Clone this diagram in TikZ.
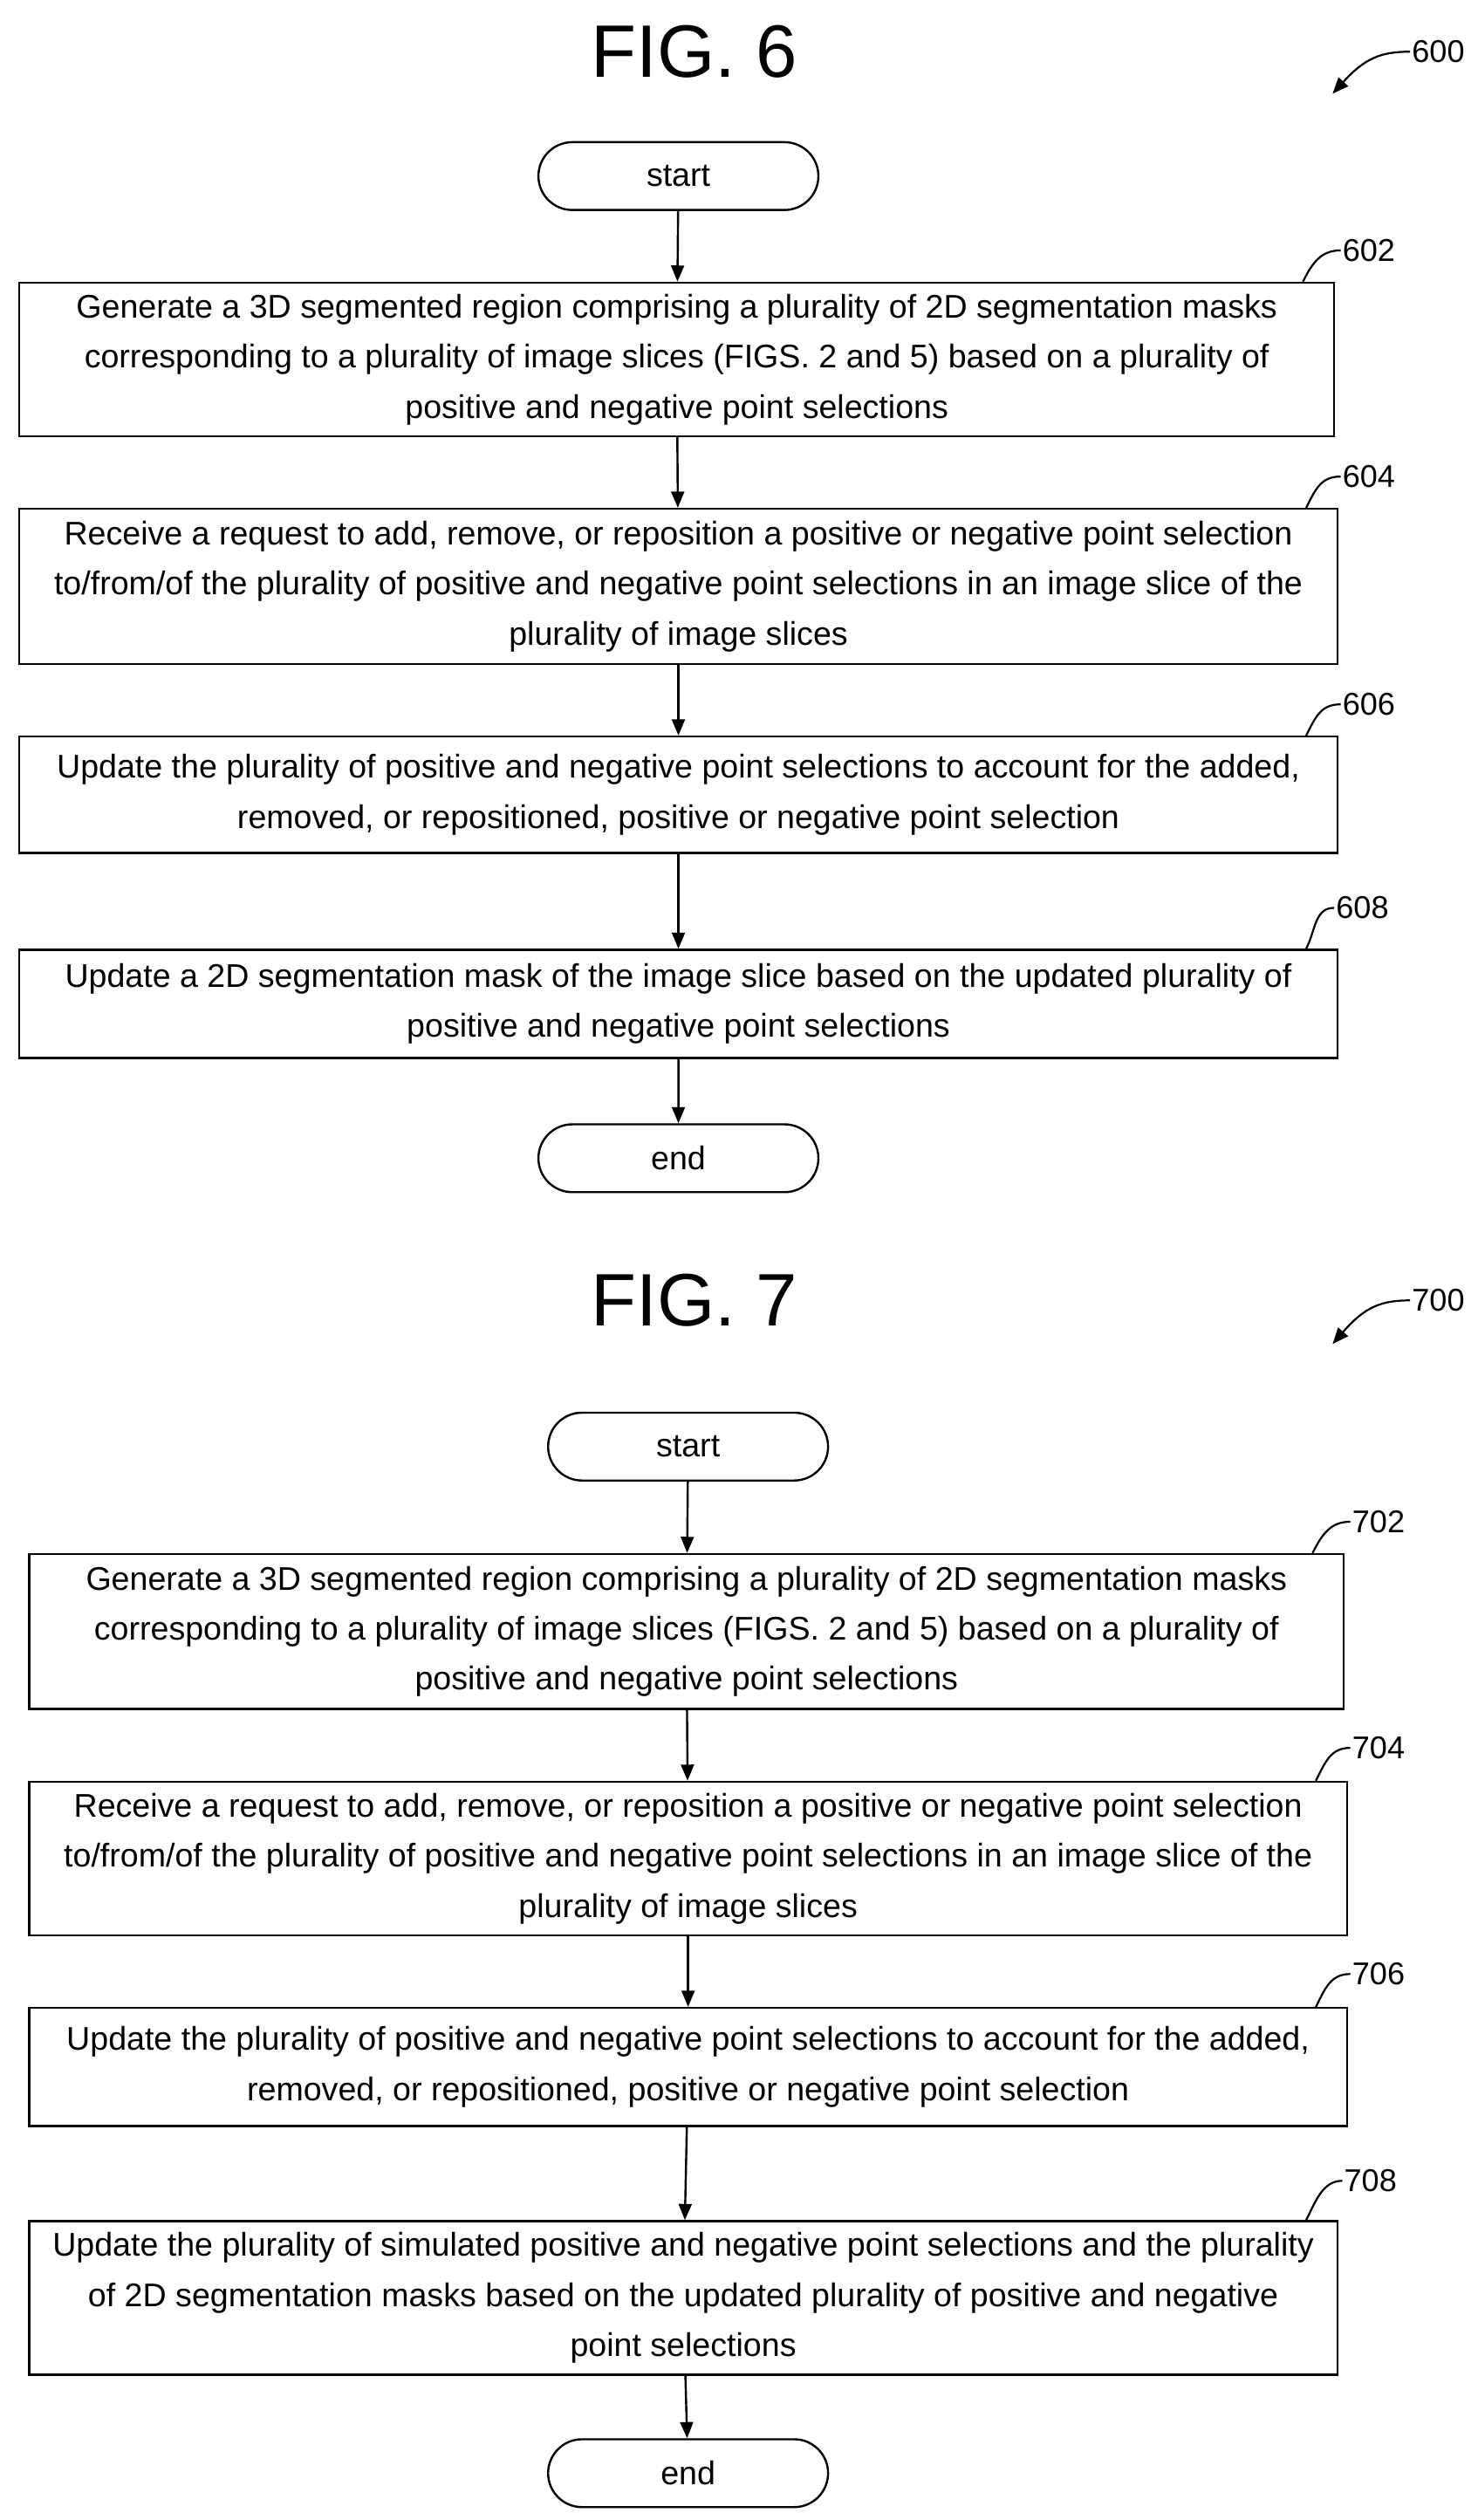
\documentclass[tikz,border=0pt]{standalone}
\usepackage{fontspec}
\setmainfont{Liberation Sans}
\usetikzlibrary{arrows.meta, positioning, shapes.misc}

\begin{document}
\begin{tikzpicture}[x=1pt,y=-1pt,>={Triangle[length=10pt,width=8pt]},
  procbox/.style={draw, line width=1.3pt, align=center, inner sep=0pt,
    font=\fontsize{20.3}{31}\selectfont},
  term/.style={draw, line width=1.3pt, rounded rectangle, minimum width=180pt,
    minimum height=42pt, font=\fontsize{20.3}{22}\selectfont},
  fig/.style={font=\fontsize{46}{50}\selectfont},
  ref/.style={font=\fontsize{19.5}{22}\selectfont, anchor=west, inner sep=1pt},
  flow/.style={->, line width=1.3pt},
  hook/.style={line width=1.2pt}]

  \useasboundingbox (0,0) rectangle (915,1560);

  % FIG. 6
  \node[fig] (f6) at (430,32) {FIG. 6};
  \node[ref] (r600) at (873,32) {600};
  \coordinate (a600) at (825,58);
  \draw[hook,->] (r600.west) .. controls (855,32) and (845,36) .. (a600);

  \node[term] (s6) at (420,109) {start};
  \node[procbox, minimum width=814pt, minimum height=95pt] (b602) at (419,222.5)
    {Generate a 3D segmented region comprising a plurality of 2D segmentation masks\\
     corresponding to a plurality of image slices (FIGS. 2 and 5) based on a plurality of\\
     positive and negative point selections};
  \node[procbox, minimum width=816pt, minimum height=96pt] (b604) at (420,363)
    {Receive a request to add, remove, or reposition a positive or negative point selection\\
     to/from/of the plurality of positive and negative point selections in an image slice of the\\
     plurality of image slices};
  \node[procbox, minimum width=816pt, minimum height=72pt] (b606) at (420,492)
    {Update the plurality of positive and negative point selections to account for the added,\\
     removed, or repositioned, positive or negative point selection};
  \node[procbox, minimum width=816pt, minimum height=67pt] (b608) at (420,621.5)
    {Update a 2D segmentation mask of the image slice based on the updated plurality of\\
     positive and negative point selections};
  \node[term] (e6) at (420,717) {end};

  \draw[flow] (s6) -- (b602);
  \draw[flow] (b602) -- (b604);
  \draw[flow] (b604) -- (b606);
  \draw[flow] (b606) -- (b608);
  \draw[flow] (b608) -- (e6);

  \node[ref] (r602) at (830,155) {602};
  \node[ref] (r604) at (830,295) {604};
  \node[ref] (r606) at (830,436) {606};
  \node[ref] (r608) at (826,562) {608};
  \foreach \n in {602,604,606,608} {
    \draw[hook] (r\n.west) .. controls ++(-12,0) and ++(6,-12) ..
      ([xshift=-20pt]b\n.north east);
  }

  % FIG. 7
  \node[fig] (f7) at (430,805) {FIG. 7};
  \node[ref] (r700) at (873,805) {700};
  \coordinate (a700) at (825,832);
  \draw[hook,->] (r700.west) .. controls (855,805) and (845,809) .. (a700);

  \node[term] (s7) at (426,895.5) {start};
  \node[procbox, minimum width=814pt, minimum height=96pt] (b702) at (425,1010)
    {Generate a 3D segmented region comprising a plurality of 2D segmentation masks\\
     corresponding to a plurality of image slices (FIGS. 2 and 5) based on a plurality of\\
     positive and negative point selections};
  \node[procbox, minimum width=816pt, minimum height=95pt] (b704) at (426,1150.5)
    {Receive a request to add, remove, or reposition a positive or negative point selection\\
     to/from/of the plurality of positive and negative point selections in an image slice of the\\
     plurality of image slices};
  \node[procbox, minimum width=816pt, minimum height=73pt] (b706) at (426,1279.5)
    {Update the plurality of positive and negative point selections to account for the added,\\
     removed, or repositioned, positive or negative point selection};
  \node[procbox, minimum width=810pt, minimum height=95pt] (b708) at (423,1422.5)
    {Update the plurality of simulated positive and negative point selections and the plurality\\
     of 2D segmentation masks based on the updated plurality of positive and negative\\
     point selections};
  \node[term] (e7) at (426,1531) {end};

  \draw[flow] (s7) -- (b702);
  \draw[flow] (b702) -- (b704);
  \draw[flow] (b704) -- (b706);
  \draw[flow] (b706) -- (b708);
  \draw[flow] (b708) -- (e7);

  \node[ref] (r702) at (836,942) {702};
  \node[ref] (r704) at (836,1082) {704};
  \node[ref] (r706) at (836,1222) {706};
  \node[ref] (r708) at (831,1350) {708};
  \foreach \n in {702,704,706,708} {
    \draw[hook] (r\n.west) .. controls ++(-12,0) and ++(6,-12) ..
      ([xshift=-20pt]b\n.north east);
  }
\end{tikzpicture}
\end{document}
